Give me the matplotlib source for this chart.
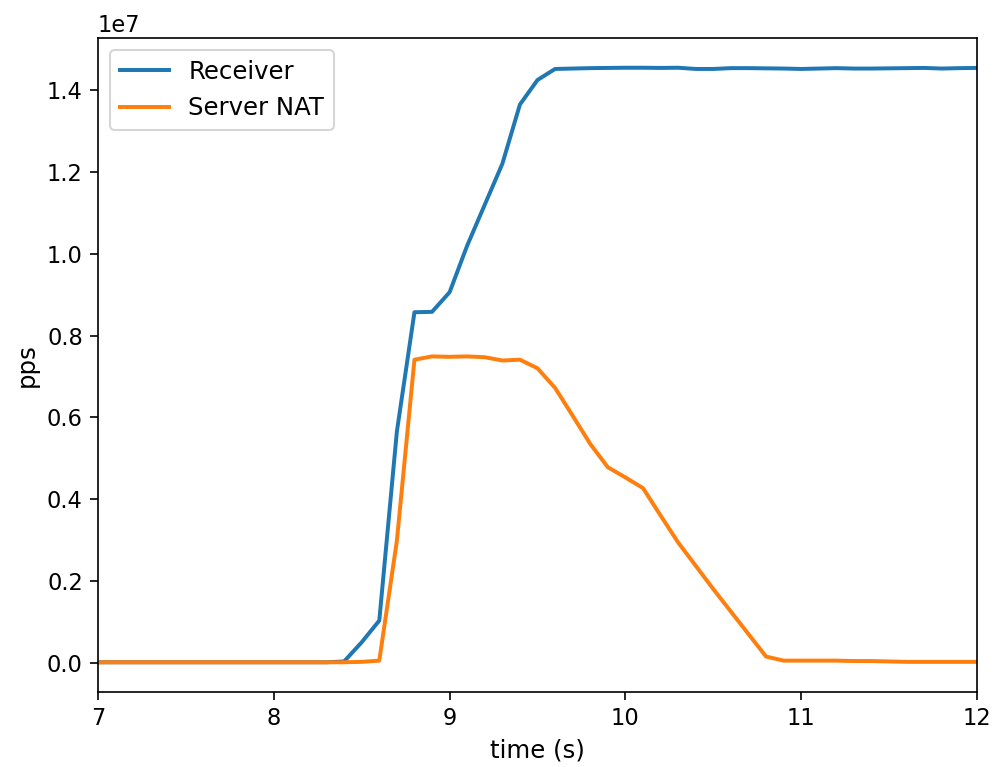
import numpy as np
import matplotlib
matplotlib.use("Agg")
import matplotlib.pyplot as plt

time_s = [7.0, 7.1, 7.2, 7.3, 7.4, 7.5, 7.6, 7.7, 7.8, 7.9,
          8.0, 8.1, 8.2, 8.3, 8.4, 8.5, 8.6, 8.7, 8.8, 8.9,
          9.0, 9.1, 9.2, 9.3, 9.4, 9.5, 9.6, 9.7, 9.8, 9.9,
          10.0, 10.1, 10.2, 10.3, 10.4, 10.5, 10.6, 10.7, 10.8, 10.9,
          11.0, 11.1, 11.2, 11.3, 11.4, 11.5, 11.6, 11.7, 11.8, 11.9, 12.0]

receiver = [0.01, 0.01, 0.01, 0.01, 0.01, 0.01, 0.01, 0.01, 0.01, 0.01,
            0.01, 0.01, 0.01, 0.01, 0.03, 0.50, 1.03, 5.65, 8.57, 8.58,
            9.06, 10.20, 11.20, 12.20, 13.65, 14.25, 14.52, 14.53, 14.54, 14.545,
            14.55, 14.55, 14.545, 14.55, 14.52, 14.52, 14.54, 14.54, 14.535, 14.53,
            14.52, 14.53, 14.54, 14.53, 14.53, 14.535, 14.54, 14.545, 14.53, 14.54, 14.545]

server_nat = [0.01, 0.01, 0.01, 0.01, 0.01, 0.01, 0.01, 0.01, 0.01, 0.01,
              0.01, 0.01, 0.01, 0.01, 0.01, 0.02, 0.05, 2.98, 7.41, 7.49,
              7.48, 7.49, 7.47, 7.39, 7.41, 7.20, 6.72, 6.04, 5.35, 4.78,
              4.53, 4.27, 3.60, 2.94, 2.37, 1.80, 1.25, 0.70, 0.15, 0.05,
              0.05, 0.05, 0.05, 0.04, 0.04, 0.03, 0.02, 0.02, 0.02, 0.02, 0.02]

fig = plt.figure(figsize=(996/150, 767/150), dpi=150)
ax = fig.add_axes([98/996, 1-692/767, (977-98)/996, (692-38)/767])
ax.plot(time_s, np.array(receiver)*1e6, label="Receiver", lw=1.9)
ax.plot(time_s, np.array(server_nat)*1e6, label="Server NAT", lw=1.9)
ax.set_xlim(7, 12)
ax.set_xlabel("time (s)", fontsize=11.7)
ax.set_ylabel("pps", fontsize=11.7)
ax.tick_params(labelsize=10.8, length=3.8)
ax.yaxis.get_offset_text().set_fontsize(10.8)
ax.legend(loc="upper left", fontsize=11.7)
fig.savefig("out.png", dpi=150)
